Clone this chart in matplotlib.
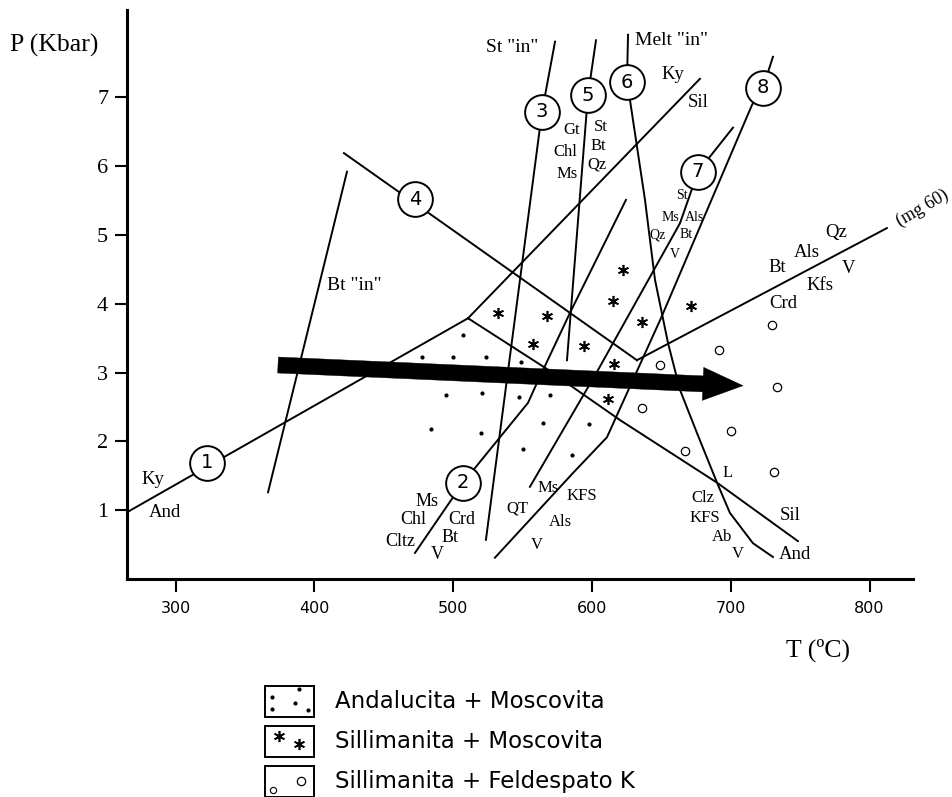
import matplotlib
matplotlib.use("Agg")
from matplotlib import pyplot as plt
from matplotlib.patches import Rectangle

SERIF = "Liberation Serif"
SANS = "DejaVu Sans"
W, H = 953, 797

# axes
t_ticks = [300, 400, 500, 600, 700, 800]
p_ticks = [1, 2, 3, 4, 5, 6, 7]

# reaction curves (T in C, P in kbar)
ky_and_T = [265, 510.7]
ky_and_P = [0.97, 3.79]
ky_sil_T = [510.7, 677.8]
ky_sil_P = [3.79, 7.27]
and_sil_T = [510.7, 566.2, 620.2, 690.1, 748.4]
and_sil_P = [3.79, 3.07, 2.31, 1.40, 0.55]
r4_T = [421.3, 632.4]
r4_P = [6.19, 3.18]
mg60_T = [632.4, 812.5]
mg60_P = [3.18, 5.10]
bt_in_T = [366.6, 423.5]
bt_in_P = [1.26, 5.92]
r2_T = [472.5, 507.1, 553.9, 560.4, 584.2, 624.5]
r2_P = [0.38, 1.40, 2.56, 2.85, 3.87, 5.51]
r3_T = [573.4, 564.0, 523.6]
r3_P = [7.81, 6.79, 0.57]
r5_T = [602.9, 597.1, 582.0]
r5_P = [7.83, 7.03, 3.18]
r6_T = [626.0, 625.2, 627.4, 638.2, 645.4, 654.8, 663.4, 675.7, 690.1, 699.4, 716.0, 730.4]
r6_P = [7.91, 7.22, 6.96, 5.51, 4.35, 3.43, 2.75, 2.12, 1.40, 0.96, 0.52, 0.32]
r7_T = [701.6, 676.4, 663.4, 603.6, 555.3]
r7_P = [6.56, 5.92, 5.17, 3.01, 1.34]
r8_T = [730.4, 723.2, 715.3, 649.7, 610.8, 586.3, 530.1]
r8_P = [7.59, 7.14, 6.89, 3.79, 2.06, 1.54, 0.31]

curves = [
    (ky_and_T, ky_and_P), (ky_sil_T, ky_sil_P), (and_sil_T, and_sil_P),
    (r4_T, r4_P), (mg60_T, mg60_P), (bt_in_T, bt_in_P), (r2_T, r2_P),
    (r3_T, r3_P), (r5_T, r5_P), (r6_T, r6_P), (r7_T, r7_P), (r8_T, r8_P),
]

# numbered reactions
num_labels = ["1", "2", "3", "4", "5", "6", "7", "8"]
num_T = [322.6, 507.1, 564.0, 472.5, 597.1, 625.2, 676.4, 723.2]
num_P = [1.69, 1.40, 6.79, 5.52, 7.03, 7.22, 5.92, 7.14]

# field symbols
and_ms_T = [507.1, 477.5, 499.9, 523.6, 548.9, 494.8, 520.8, 547.4, 569.8,
            484.0, 520.0, 564.7, 597.9, 550.3, 585.6]
and_ms_P = [3.55, 3.23, 3.23, 3.23, 3.15, 2.67, 2.70, 2.65, 2.67,
            2.18, 2.12, 2.27, 2.25, 1.89, 1.80]
sil_ms_T = [532.3, 567.6, 557.5, 594.3, 622.4, 615.1, 636.0, 615.9, 671.3, 611.5]
sil_ms_P = [3.87, 3.82, 3.42, 3.39, 4.49, 4.04, 3.74, 3.13, 3.97, 2.62]
sil_kfs_T = [729.7, 691.5, 649.0, 733.3, 636.0, 700.2, 667.0, 731.1]
sil_kfs_P = [3.69, 3.33, 3.11, 2.79, 2.49, 2.15, 1.86, 1.56]

# metamorphic path arrow (start, end)
arrow_T = [373.8, 708.8]
arrow_P = [3.11, 2.81]

# mineral labels: text, T, P, size
mineral_labels = [
    ("Ky", 283.7, 1.45, 13.5), ("And", 292.4, 0.96, 13.5),
    ('Bt "in"', 429.0, 4.27, 14), ('St "in"', 542.5, 7.73, 14),
    ('Melt "in"', 657.0, 7.83, 14),
    ("Ky", 658.4, 7.33, 13.5), ("Sil", 676.4, 6.92, 13.5),
    ("Gt", 585.6, 6.53, 12), ("Chl", 580.6, 6.21, 12), ("Ms", 582.0, 5.89, 12),
    ("St", 606.5, 6.57, 12), ("Bt", 604.3, 6.29, 12), ("Qz", 603.6, 6.03, 12),
    ("St", 664.9, 5.58, 10), ("Ms", 656.2, 5.26, 10), ("Als", 674.2, 5.26, 10),
    ("Qz", 647.6, 5.00, 10), ("Bt", 667.7, 5.00, 10), ("V", 659.8, 4.71, 10),
    ("Bt", 733.3, 4.53, 13.5), ("Als", 754.9, 4.74, 13.5), ("Qz", 775.8, 5.03, 13.5),
    ("V", 785.2, 4.52, 13.5), ("Kfs", 764.3, 4.27, 13.5), ("Crd", 737.6, 4.01, 13.5),
    ("Ms", 481.1, 1.12, 13), ("Chl", 471.0, 0.87, 13), ("Cltz", 461.7, 0.54, 13),
    ("Crd", 506.4, 0.87, 13), ("Bt", 497.7, 0.61, 13), ("V", 488.3, 0.36, 13),
    ("Ms", 568.3, 1.32, 12), ("KFS", 592.8, 1.21, 12), ("QT", 546.0, 1.03, 12),
    ("Als", 577.0, 0.83, 12), ("V", 560.4, 0.49, 12),
    ("L", 698.0, 1.54, 12), ("Clz", 680.0, 1.18, 12), ("KFS", 681.4, 0.89, 12),
    ("Ab", 693.7, 0.61, 12), ("V", 705.2, 0.36, 12),
    ("Sil", 742.7, 0.93, 13.5), ("And", 746.3, 0.36, 13.5),
]

legend_labels = ["Andalucita + Moscovita", "Sillimanita + Moscovita",
                 "Sillimanita + Feldespato K"]

fig = plt.figure(figsize=(W / 100, H / 100), dpi=100)
ax = fig.add_axes([127 / W, 218 / H, 786 / W, 569 / H])
ax.set_xlim(265, 831.3)
ax.set_ylim(0, 8.27)

for s in ("top", "right"):
    ax.spines[s].set_visible(False)
for s in ("left", "bottom"):
    ax.spines[s].set_linewidth(2.2)

ax.set_xticks(t_ticks)
ax.set_yticks(p_ticks)
ax.tick_params(axis="x", direction="out", length=9, width=1.5, pad=7, labelsize=11.5)
ax.tick_params(axis="y", direction="out", length=8.5, width=1.5, pad=5, labelsize=16)
for lbl in ax.get_xticklabels():
    lbl.set_fontfamily(SANS)
for lbl in ax.get_yticklabels():
    lbl.set_fontfamily(SERIF)

for T, P in curves:
    ax.plot(T, P, color="black", linewidth=1.4, zorder=2)

# field symbols
ax.plot(and_ms_T, and_ms_P, linestyle="none", marker="o", markersize=2.0,
        color="black", zorder=2)
ax.plot(sil_ms_T, sil_ms_P, linestyle="none", marker=(6, 2, 0), markersize=8,
        markeredgewidth=1.2, color="black", zorder=2)
ax.plot(sil_kfs_T, sil_kfs_P, linestyle="none", marker="o", markersize=6,
        markerfacecolor="white", markeredgecolor="black", markeredgewidth=0.9, zorder=2)

ax.annotate(
    "",
    xy=(arrow_T[1], arrow_P[1]),
    xytext=(arrow_T[0], arrow_P[0]),
    arrowprops=dict(
        arrowstyle="simple,head_length=2.88,head_width=2.38,tail_width=1.15",
        mutation_scale=10, fc="black", ec="black", lw=0.3,
        shrinkA=0, shrinkB=0,
    ),
    zorder=3,
)

# numbered circles
ax.plot(num_T, num_P, linestyle="none", marker="o", markersize=25,
        markerfacecolor="white", markeredgecolor="black", markeredgewidth=1.4, zorder=4)
for lab, t, p in zip(num_labels, num_T, num_P):
    ax.text(t, p, lab, ha="center", va="center", fontsize=14, family=SANS, zorder=5)

for txt, t, p, size in mineral_labels:
    ax.text(t, p, txt, ha="center", va="center", fontsize=size, family=SERIF, zorder=5)

ax.text(837.8, 5.39, "(mg 60)", ha="center", va="center", fontsize=13,
        family=SERIF, rotation=30, zorder=5)

fig.text(10 / W, 1 - 45 / H, "P (Kbar)", ha="left", va="center", fontsize=18.5, family=SERIF)
fig.text(818 / W, 1 - 650 / H, "T (ºC)", ha="center", va="center", fontsize=18.5, family=SERIF)

# legend drawn in pixel coordinates
lax = fig.add_axes([0, 0, 1, 1])
lax.set_xlim(0, W)
lax.set_ylim(H, 0)
lax.axis("off")
box_x, box_w, box_h = 265, 49, 31
box_tops = [686, 726, 766]
for top, lab in zip(box_tops, legend_labels):
    lax.add_patch(Rectangle((box_x, top), box_w, box_h, fill=False,
                            edgecolor="black", linewidth=1.4))
    lax.text(335, top + box_h / 2, lab, ha="left", va="center", fontsize=16.5, family=SANS)

lax.plot([box_x + 7, box_x + 34, box_x + 30, box_x + 7, box_x + 43],
         [box_tops[0] + 11, box_tops[0] + 3, box_tops[0] + 17, box_tops[0] + 23, box_tops[0] + 24],
         linestyle="none", marker="o", markersize=2.0, color="black")
lax.plot([box_x + 14, box_x + 34], [box_tops[1] + 10, box_tops[1] + 18],
         linestyle="none", marker=(6, 2, 0), markersize=8, markeredgewidth=1.2, color="black")
lax.plot([box_x + 8], [box_tops[2] + 24], linestyle="none", marker="o", markersize=4.5,
         markerfacecolor="white", markeredgecolor="black", markeredgewidth=0.8)
lax.plot([box_x + 36], [box_tops[2] + 15], linestyle="none", marker="o", markersize=6,
         markerfacecolor="white", markeredgecolor="black", markeredgewidth=0.9)

fig.savefig("out.png", dpi=100)
